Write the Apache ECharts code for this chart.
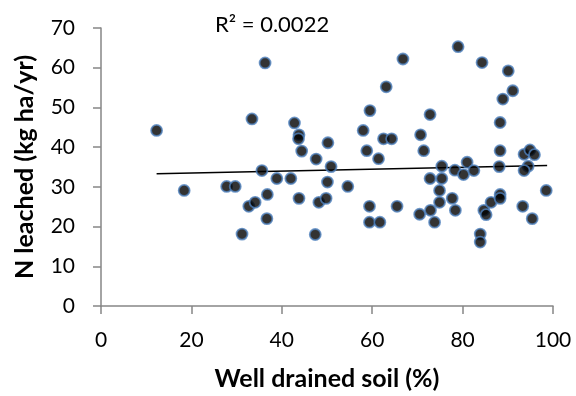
<!DOCTYPE html>
<html>
<head>
<meta charset="utf-8">
<script src="https://cdn.jsdelivr.net/npm/echarts@6/dist/echarts.min.js"></script>
<style>
  html, body { margin: 0; padding: 0; background: #fff; }
  #chart { width: 576px; height: 396px; }
</style>
</head>
<body>
<div id="chart"></div>
<script>
// well drained soil (%) vs N leached (kg ha/yr)
var drained = [12.3, 18.4, 27.8, 29.7, 31.2, 32.7, 34.1, 33.4, 35.6, 36.3,
  36.8, 36.7, 38.9, 42.0, 42.8, 43.8, 43.7, 44.4, 43.8, 47.6,
  47.4, 48.2, 49.8, 50.1, 50.2, 50.9, 54.6, 58.0, 58.8, 59.5,
  59.4, 59.4, 61.4, 61.7, 62.5, 63.1, 64.3, 65.5, 66.8, 70.7,
  71.4, 72.8, 70.5, 72.8, 72.9, 73.8, 75.4, 75.4, 74.9, 74.9,
  77.7, 78.4, 78.3, 79.0, 80.2, 81.0, 82.5, 83.9, 83.9, 84.3,
  84.7, 85.2, 86.3, 88.1, 88.3, 88.3, 88.9, 88.3, 88.3, 90.1,
  91.1, 93.6, 94.9, 95.9, 94.5, 93.6, 93.3, 95.4, 98.5];
var leached = [44.2, 29.1, 30.1, 30.1, 18.1, 25.1, 26.1, 47.1, 34.1, 61.2,
  28.1, 22.0, 32.1, 32.1, 46.1, 43.1, 42.1, 39.0, 27.1, 37.0,
  18.0, 26.1, 27.1, 31.2, 41.1, 35.1, 30.1, 44.2, 39.1, 49.2,
  25.1, 21.1, 37.1, 21.1, 42.1, 55.2, 42.1, 25.1, 62.2, 43.1,
  39.1, 48.2, 23.1, 32.1, 24.1, 21.1, 35.2, 32.1, 29.1, 26.1,
  27.1, 24.1, 34.2, 65.3, 33.1, 36.2, 34.1, 18.1, 16.1, 61.3,
  24.1, 23.0, 26.1, 35.1, 39.1, 46.2, 52.1, 28.1, 27.1, 59.2,
  54.2, 38.2, 39.3, 38.1, 35.2, 34.1, 25.1, 22.0, 29.1];

// linear trendline end points
var trendX = [12.3, 98.7];
var trendY = [33.3, 35.4];

var r2Label = 'R² = 0.0022';

var points = [];
for (var i = 0; i < drained.length; i++) {
  points.push([drained[i], leached[i]]);
}
var trend = [[trendX[0], trendY[0]], [trendX[1], trendY[1]]];

var font = 'Lato, "Open Sans", "DejaVu Sans", sans-serif';
var axisGray = '#868686';

var myChart = echarts.init(document.getElementById('chart'));
var option = {
  animation: false,
  grid: { left: 101, right: 23, top: 28, bottom: 89 },
  title: {
    text: r2Label,
    left: 210, top: 9,
    textStyle: { fontFamily: font, fontSize: 22, fontWeight: 'normal', color: '#000' }
  },
  xAxis: {
    type: 'value', min: 0, max: 100, interval: 20,
    name: 'Well drained soil (%)',
    nameLocation: 'middle', nameGap: 60,
    nameTextStyle: { fontFamily: font, fontSize: 25, fontWeight: 'bold', color: '#000' },
    axisLine: { onZero: false, lineStyle: { color: axisGray, width: 1.5 } },
    axisTick: { show: true, length: 8, lineStyle: { color: axisGray, width: 1.5 } },
    axisLabel: { margin: 24, fontFamily: font, fontSize: 21, color: '#000' },
    splitLine: { show: false }
  },
  yAxis: {
    type: 'value', min: 0, max: 70, interval: 10,
    name: 'N leached (kg ha/yr)',
    nameLocation: 'middle', nameGap: 64,
    nameTextStyle: { fontFamily: font, fontSize: 25, fontWeight: 'bold', color: '#000' },
    axisLine: { show: true, lineStyle: { color: axisGray, width: 1.5 } },
    axisTick: { show: true, length: 8, lineStyle: { color: axisGray, width: 1.5 } },
    axisLabel: { margin: 26, fontFamily: font, fontSize: 21, color: '#000' },
    splitLine: { show: false }
  },
  series: [
    {
      type: 'line',
      data: trend,
      symbol: 'none',
      lineStyle: { color: '#000', width: 1.5 },
      z: 1
    },
    {
      type: 'scatter',
      data: points,
      symbolSize: 11,
      itemStyle: { color: '#000', borderColor: '#4F81BD', borderWidth: 1.8 },
      z: 2
    }
  ]
};
myChart.setOption(option);
</script>
</body>
</html>
